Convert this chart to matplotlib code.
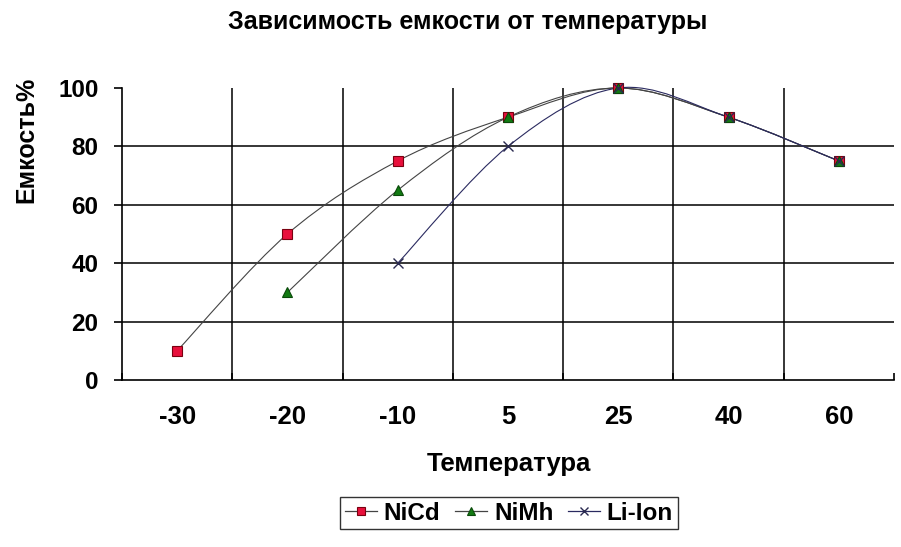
import numpy as np
import matplotlib
matplotlib.use('Agg')
import matplotlib.pyplot as plt
from matplotlib.path import Path
from matplotlib.patches import PathPatch
from matplotlib.ticker import FixedLocator

plt.rcParams['font.family'] = ['Liberation Sans', 'DejaVu Sans']
plt.rcParams['font.weight'] = 'bold'

temps = ['-30', '-20', '-10', '5', '25', '40', '60']
nicd = [10, 50, 75, 90, 100, 90, 75]
nimh = [None, 30, 65, 90, 100, 90, 75]
liion = [None, None, 40, 80, 100, 90, 75]


def smooth_path(xs, ys):
    # excel-like smoothed line: bezier through the points
    pts = np.column_stack([xs, ys]).astype(float)
    verts = [pts[0]]
    codes = [Path.MOVETO]
    n = len(pts)
    for i in range(n - 1):
        p0 = pts[i - 1] if i > 0 else pts[i]
        p1 = pts[i]
        p2 = pts[i + 1]
        p3 = pts[i + 2] if i + 2 < n else pts[i + 1]
        c1 = p1 + (p2 - p0) / 6.0
        c2 = p2 - (p3 - p1) / 6.0
        verts += [c1, c2, p2]
        codes += [Path.CURVE4] * 3
    return Path(verts, codes)


fig = plt.figure(figsize=(9.01, 5.47), dpi=100)
ax = fig.add_axes([122 / 901, 1 - 380 / 547, 772 / 901, 292 / 547])

series = [
    ('NiCd', nicd, dict(marker='s', color='#444444', mfc='#e8103c', mec='#7a0010', ms=7)),
    ('NiMh', nimh, dict(marker='^', color='#444444', mfc='#127a12', mec='#0a4a0a', ms=7)),
    ('Li-Ion', liion, dict(marker='x', color='#2a2a60', mfc='none', mec='#2a2a50', ms=7, mew=1.0)),
]

for name, vals, st in series:
    xs = [i for i, v in enumerate(vals) if v is not None]
    ys = [v for v in vals if v is not None]
    ax.add_patch(PathPatch(smooth_path(xs, ys), fc='none', ec=st['color'],
                           lw=0.8, clip_on=False, zorder=3))
    ax.plot(xs, ys, linestyle='none', marker=st['marker'], mfc=st['mfc'],
            mec=st['mec'], ms=st['ms'], mew=st.get('mew', 0.8),
            clip_on=False, zorder=4)
    ax.plot([], [], color=st['color'], lw=0.9, marker=st['marker'],
            mfc=st['mfc'], mec=st['mec'], ms=st['ms'] - 1,
            mew=st.get('mew', 0.8), label=name)

ax.set_xlim(-0.5, len(temps) - 0.5)
ax.set_ylim(0, 100)

ax.set_xticks(range(len(temps)))
ax.set_xticklabels(temps, fontsize=18.5, fontweight='bold')
ax.tick_params(axis='x', which='major', length=0, pad=18)
ax.xaxis.set_minor_locator(FixedLocator(np.arange(-0.5, len(temps))))
ax.tick_params(axis='x', which='minor', direction='in', length=5, width=1.2)

for b in np.arange(0.5, len(temps) - 1):
    ax.axvline(b, color='black', lw=1.1, zorder=1)

ax.set_yticks([0, 20, 40, 60, 80, 100])
ax.set_yticklabels(['0', '20', '40', '60', '80', '100'], fontsize=17.5, fontweight='bold')
ax.tick_params(axis='y', direction='out', length=6, width=1.2, pad=11)
for g in [20, 40, 60, 80]:
    ax.axhline(g, color='black', lw=1.1, zorder=1)

for s in ['top', 'right']:
    ax.spines[s].set_visible(False)
ax.spines['left'].set_linewidth(1.2)
ax.spines['bottom'].set_linewidth(1.2)

fig.text(468 / 901, 1 - 22 / 547, 'Зависимость емкости от температуры',
         ha='center', va='center', fontsize=18, fontweight='bold')
fig.text(509 / 901, 1 - 464 / 547, 'Температура',
         ha='center', va='center', fontsize=18.5, fontweight='bold')
fig.text(26 / 901, 1 - 140 / 547, 'Емкость%', rotation=90,
         ha='center', va='center', fontsize=18, fontweight='bold')

leg = fig.legend(loc='center', bbox_to_anchor=(509 / 901, 1 - 513 / 547),
                 ncol=3, fontsize=17.5, frameon=True, fancybox=False,
                 handlelength=1.3, handletextpad=0.3, columnspacing=0.6,
                 borderpad=0.2, borderaxespad=0)
leg.get_frame().set_edgecolor('black')
leg.get_frame().set_linewidth(1.0)
for t in leg.get_texts():
    t.set_fontweight('bold')

fig.savefig('out.png', dpi=100)
